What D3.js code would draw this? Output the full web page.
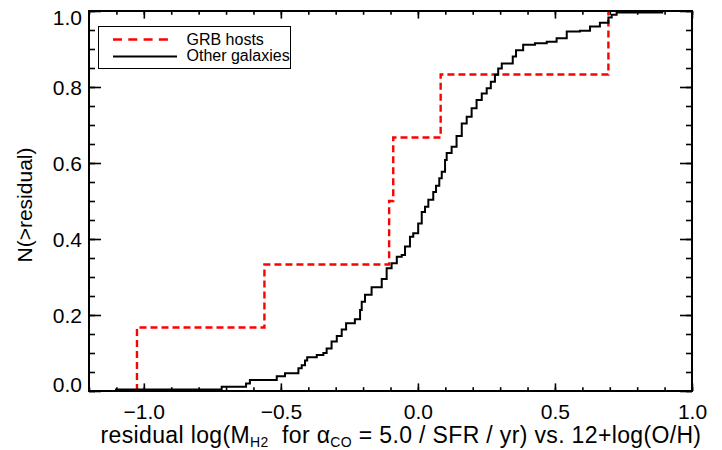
<!DOCTYPE html>
<html>
<head>
<meta charset="utf-8">
<script src="https://cdn.jsdelivr.net/npm/d3@7/dist/d3.min.js"></script>
<style>
  html, body { margin: 0; padding: 0; background: #fff; }
  svg { display: block; font-family: "Liberation Sans", Arial, Helvetica, sans-serif; }
</style>
</head>
<body>
<svg id="chart" width="722" height="450"></svg>
<script>
// ---- data ----
const xTickValues = [-1.0, -0.5, 0.0, 0.5, 1.0];
const yTickValues = [0.0, 0.2, 0.4, 0.6, 0.8, 1.0];

// GRB hosts: residual where the cumulative fraction steps up, and fraction after the step
const grbX = [-1.025, -0.560, -0.105, -0.090, 0.083, 0.695];
const grbY = [0.167, 0.333, 0.500, 0.667, 0.833, 1.000];

// Other galaxies: step corners (residual, fraction from there on)
const othX = [-1.105, -0.716, -0.627, -0.613, -0.515, -0.485, -0.436, -0.424, -0.412, -0.404,
  -0.369, -0.345, -0.333, -0.315, -0.296, -0.278, -0.262, -0.230, -0.211, -0.205,
  -0.193, -0.169, -0.132, -0.114, -0.096, -0.077, -0.059, -0.047, -0.029, -0.017,
  0.001, 0.014, 0.026, 0.038, 0.056, 0.066, 0.078, 0.087, 0.099, 0.105,
  0.123, 0.141, 0.160, 0.178, 0.196, 0.214, 0.233, 0.251, 0.266, 0.281,
  0.293, 0.306, 0.346, 0.358, 0.384, 0.427, 0.470, 0.506, 0.543, 0.591,
  0.628, 0.664, 0.695, 0.707, 0.725, 0.895];
const othY = [0.004, 0.011, 0.020, 0.029, 0.039, 0.047, 0.060, 0.068, 0.080, 0.089,
  0.095, 0.100, 0.112, 0.130, 0.145, 0.162, 0.178, 0.189, 0.213, 0.235,
  0.253, 0.273, 0.295, 0.323, 0.336, 0.353, 0.358, 0.380, 0.406, 0.415,
  0.441, 0.471, 0.485, 0.503, 0.524, 0.540, 0.560, 0.577, 0.608, 0.626,
  0.643, 0.671, 0.704, 0.722, 0.744, 0.766, 0.783, 0.797, 0.814, 0.832,
  0.849, 0.862, 0.880, 0.897, 0.911, 0.915, 0.919, 0.928, 0.946, 0.948,
  0.959, 0.969, 0.983, 0.990, 0.996, 0.996];

const legendLabels = ["GRB hosts", "Other galaxies"];

// ---- layout ----
const svg = d3.select("#chart");
const L = 89, R = 692, T = 11, B = 391;
const x = d3.scaleLinear().domain([-1.2, 1.0]).range([L, R]);
const y = d3.scaleLinear().domain([0, 1.0]).range([B, T]);

const xMinor = d3.range(-12, 11).map(d => d / 10);
const yMinor = d3.range(0, 21).map(d => d / 20);
const xMajLen = 7.6, xMinLen = 3.8, yMajLen = 12, yMinLen = 6;

// minor ticks
svg.append("g").attr("transform", `translate(0,${B})`)
  .call(d3.axisBottom(x).tickValues(xMinor).tickSize(-xMinLen).tickFormat(""))
  .call(g => g.select(".domain").remove());
svg.append("g").attr("transform", `translate(0,${T})`)
  .call(d3.axisTop(x).tickValues(xMinor).tickSize(-xMinLen).tickFormat(""))
  .call(g => g.select(".domain").remove());
svg.append("g").attr("transform", `translate(${L},0)`)
  .call(d3.axisLeft(y).tickValues(yMinor).tickSize(-yMinLen).tickFormat(""))
  .call(g => g.select(".domain").remove());
svg.append("g").attr("transform", `translate(${R},0)`)
  .call(d3.axisRight(y).tickValues(yMinor).tickSize(-yMinLen).tickFormat(""))
  .call(g => g.select(".domain").remove());

// major ticks + labels
const fmt = d3.format(".1f");
const xAx = svg.append("g").attr("transform", `translate(0,${B})`)
  .call(d3.axisBottom(x).tickValues(xTickValues).tickSize(-xMajLen).tickPadding(13).tickFormat(fmt));
xAx.select(".domain").remove();
svg.append("g").attr("transform", `translate(0,${T})`)
  .call(d3.axisTop(x).tickValues(xTickValues).tickSize(-xMajLen).tickFormat(""))
  .call(g => g.select(".domain").remove());
const yAx = svg.append("g").attr("transform", `translate(${L},0)`)
  .call(d3.axisLeft(y).tickValues(yTickValues).tickSize(-yMajLen).tickPadding(7).tickFormat(fmt));
yAx.select(".domain").remove();
svg.append("g").attr("transform", `translate(${R},0)`)
  .call(d3.axisRight(y).tickValues(yTickValues).tickSize(-yMajLen).tickFormat(""))
  .call(g => g.select(".domain").remove());

svg.selectAll(".tick line").attr("stroke", "#000").attr("stroke-width", 1.6);
svg.selectAll(".tick text").attr("fill", "#000").attr("font-size", 21)
  .attr("font-family", "'Liberation Sans', Arial, sans-serif");
yAx.selectAll(".tick text").attr("dy", d => d === 0 ? "0.0em" : (d === 1 ? "0.63em" : "0.34em"));

// ---- lines ----
const lineGen = d3.line().x(d => x(d[0])).y(d => y(d[1]));

// GRB stepped path
const grbPts = [[grbX[0], 0]];
grbX.forEach((xv, i) => {
  grbPts.push([xv, i === 0 ? 0 : grbY[i - 1]]);
  grbPts.push([xv, grbY[i]]);
});
svg.append("path").datum(grbPts)
  .attr("d", lineGen)
  .attr("fill", "none").attr("stroke", "#ff0000").attr("stroke-width", 2.4)
  .attr("stroke-dasharray", "7,4");

// frame
svg.append("rect").attr("x", L).attr("y", T).attr("width", R - L).attr("height", B - T)
  .attr("fill", "none").attr("stroke", "#000").attr("stroke-width", 2);

// Other galaxies stepped path
const othPts = othX.map((xv, i) => [xv, othY[i]]);
svg.append("path").datum(othPts)
  .attr("d", d3.line().x(d => x(d[0])).y(d => y(d[1])).curve(d3.curveStepAfter))
  .attr("fill", "none").attr("stroke", "#000").attr("stroke-width", 2);

// ---- legend ----
const lg = svg.append("g");
lg.append("rect").attr("x", 98.5).attr("y", 26.5).attr("width", 192).attr("height", 42)
  .attr("fill", "#fff").attr("stroke", "#000").attr("stroke-width", 1);
lg.append("line").attr("x1", 113).attr("x2", 168).attr("y1", 39.5).attr("y2", 39.5)
  .attr("stroke", "#ff0000").attr("stroke-width", 2.4).attr("stroke-dasharray", "9,6.3");
lg.append("line").attr("x1", 113).attr("x2", 177).attr("y1", 56.5).attr("y2", 56.5)
  .attr("stroke", "#000").attr("stroke-width", 2);
lg.append("text").attr("x", 186.5).attr("y", 44.5).attr("font-size", 16).text(legendLabels[0]);
lg.append("text").attr("x", 186.5).attr("y", 61).attr("font-size", 16).text(legendLabels[1]);

// ---- axis titles ----
const xt = svg.append("text").attr("x", 401).attr("y", 443).attr("text-anchor", "middle")
  .attr("font-size", 23).attr("letter-spacing", 0.35)
  .attr("xml:space", "preserve").style("white-space", "pre");
xt.append("tspan").text("residual log(M");
xt.append("tspan").attr("font-size", 14).attr("dy", 4).text("H2");
xt.append("tspan").attr("dy", -4).text("  for α");
xt.append("tspan").attr("font-size", 14).attr("dy", 4).text("CO");
xt.append("tspan").attr("dy", -4).text(" = 5.0 / SFR / yr) vs. 12+log(O/H)");

svg.append("text").attr("transform", "translate(32,205) rotate(-90)")
  .attr("text-anchor", "middle").attr("font-size", 21).text("N(>residual)");
</script>
</body>
</html>
